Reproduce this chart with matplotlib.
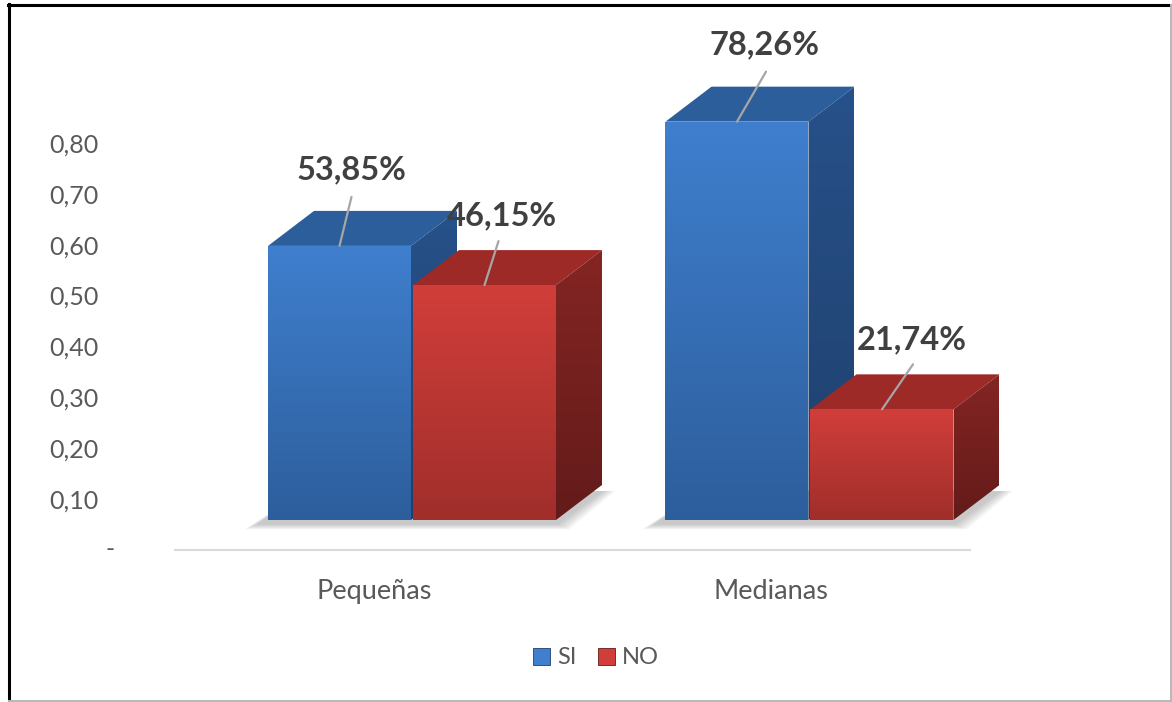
import numpy as np
import matplotlib
matplotlib.use("Agg")
import matplotlib.pyplot as plt
from matplotlib.patches import Polygon, Patch
from matplotlib.colors import LinearSegmentedColormap
from matplotlib.lines import Line2D
import matplotlib.transforms as mtransforms

# ---------------- data ----------------
categories = ["Pequeñas", "Medianas"]
series_names = ["SI", "NO"]
si_values = [0.5385, 0.7826]
no_values = [0.4615, 0.2174]
y_ticks = [0.0, 0.1, 0.2, 0.3, 0.4, 0.5, 0.6, 0.7, 0.8]
y_tick_labels = ["", "0,10", "0,20", "0,30", "0,40", "0,50", "0,60", "0,70", "0,80"]
zero_label = "-"

# ---------------- style / layout ----------------
plt.rcParams["font.family"] = ["Lato", "DejaVu Sans"]
FIG_W, FIG_H = 1172, 702
PX_X = 1 / 397.5          # category units per pixel
PX_Y = 1 / 509.0          # value units per pixel
W = 143 * PX_X            # bar width
DX = 46 * PX_X            # depth offset x
DY = 35 * PX_Y            # depth offset y
BASE = 30 * PX_Y          # front face floor
SI_OFF = -105.75 * PX_X
NO_OFF = 39.25 * PX_X
EXTRA_R = 80              # extra axes room on the right (pixels) for 3D depth

colors = {
    "SI": dict(front_top="#3f7fce", front_bot="#2d5e9c", top="#2c5e9c",
               side_top="#27518a", side_bot="#1f406c"),
    "NO": dict(front_top="#d13e3a", front_bot="#a02e2b", top="#9e2a27",
               side_top="#842523", side_bot="#631b1a"),
}
# label offsets (pixels): text centre and leader start, relative to front top centre
label_offsets_px = {("SI", 0): (12, 76), ("NO", 0): (17, 69),
                    ("SI", 1): (28, 77), ("NO", 1): (30, 70)}
line_offsets_px = {("SI", 0): (12, 49), ("NO", 0): (14, 44),
                   ("SI", 1): (29, 50), ("NO", 1): (31, 45)}

fig = plt.figure(figsize=(FIG_W / 100, FIG_H / 100), dpi=100)
ax = fig.add_axes([175 / FIG_W, (FIG_H - 550) / FIG_H, (795 + EXTRA_R) / FIG_W, 530 / FIG_H])
YMAX = 530 * PX_Y
XMIN, XMAX = -0.5, 1.5


def grad_fill(verts, c_top, c_bot, z):
    poly = Polygon(verts, closed=True, facecolor="none", edgecolor="none", clip_on=False)
    ax.add_patch(poly)
    xs, ys = zip(*verts)
    cmap = LinearSegmentedColormap.from_list("g", [c_bot, c_top])
    grad = np.linspace(0, 1, 256).reshape(-1, 1)
    im = ax.imshow(grad, extent=[min(xs), max(xs), min(ys), max(ys)], origin="lower",
                   cmap=cmap, aspect="auto", zorder=z, interpolation="bicubic")
    im.set_clip_path(poly)


def shadow(x0, x1, z):
    for k in range(6):
        e = (6 - k) * 2.2
        verts = [(x0 - (10 + e) * PX_X, BASE - (4 + e * 0.4) * PX_Y),
                 (x1 + e * PX_X, BASE - (4 + e * 0.4) * PX_Y),
                 (x1 + DX + e * PX_X, BASE + DY - 6 * PX_Y),
                 (x0 + DX - 10 * PX_X, BASE + DY - 6 * PX_Y)]
        ax.add_patch(Polygon(verts, closed=True, facecolor="#404040", edgecolor="none",
                             alpha=0.05, zorder=z, clip_on=False))


z = 2
xpos = np.arange(len(categories))
for i in xpos:
    shadow(i + SI_OFF, i + NO_OFF + W, 1)

for i, cat in enumerate(categories):
    for name, vals, off in (("SI", si_values, SI_OFF), ("NO", no_values, NO_OFF)):
        v = vals[i]
        c = colors[name]
        bars = ax.bar([xpos[i] + off], [v], width=W, bottom=BASE, align="edge",
                      color=c["front_top"], edgecolor="none", zorder=z + 0.1, clip_on=False)
        rect = bars[0]
        x0 = rect.get_x()
        x1 = x0 + rect.get_width()
        yb = rect.get_y()
        yt = yb + rect.get_height()
        top = [(x0, yt), (x1, yt), (x1 + DX, yt + DY), (x0 + DX, yt + DY)]
        side = [(x1, yb), (x1 + DX, yb + DY), (x1 + DX, yt + DY), (x1, yt)]
        ax.add_patch(Polygon(top, closed=True, facecolor=c["top"], edgecolor="none",
                             zorder=z, clip_on=False))
        grad_fill(side, c["side_top"], c["side_bot"], z)
        grad_fill([(x0, yb), (x1, yb), (x1, yt), (x0, yt)], c["front_top"], c["front_bot"], z + 0.2)
        cx = (x0 + x1) / 2
        lx, ly = line_offsets_px[(name, i)]
        ax.annotate("", xy=(cx, yt), xytext=(lx * 0.72, ly * 0.72), textcoords="offset points",
                    arrowprops=dict(arrowstyle="-", color="#a6a6a6", lw=1.6,
                                    shrinkA=0, shrinkB=0), zorder=z + 0.5)
        tx, ty = label_offsets_px[(name, i)]
        ax.annotate(f"{v * 100:.2f}%".replace(".", ","), xy=(cx, yt),
                    xytext=(tx * 0.72, ty * 0.72), textcoords="offset points",
                    ha="center", va="center", fontsize=23.5, fontweight="bold",
                    color="#404040", zorder=20, annotation_clip=False)
        z += 1

ax.set_xlim(XMIN, XMAX + EXTRA_R * PX_X)
ax.set_ylim(0, YMAX)
for s in ("top", "right", "left", "bottom"):
    ax.spines[s].set_visible(False)
ax.plot([XMIN, XMAX], [0, 0], color="#d9d9d9", lw=1.5, zorder=0.5, clip_on=False)
ax.set_facecolor("none")

ax.set_yticks(y_ticks)
ax.set_yticklabels(y_tick_labels)
ax.tick_params(axis="y", length=0, pad=55, labelsize=18, labelcolor="#595959")
ax.set_xticks(xpos)
ax.set_xticklabels(categories)
ax.tick_params(axis="x", length=0, pad=21, labelsize=19.5, labelcolor="#595959")
trans = mtransforms.blended_transform_factory(ax.transData, ax.transData)
ax.text(XMIN - 65 * PX_X, 0, zero_label, transform=trans, ha="center", va="center",
        fontsize=18, color="#595959", clip_on=False)

handles = [Patch(facecolor=colors["SI"]["front_top"], edgecolor=colors["SI"]["side_bot"], lw=0.6),
           Patch(facecolor=colors["NO"]["front_top"], edgecolor=colors["NO"]["side_bot"], lw=0.6)]
fig.legend(handles, series_names, loc="center", bbox_to_anchor=(596 / FIG_W, 1 - 658 / FIG_H),
           ncol=2, frameon=False, fontsize=17, labelcolor="#595959", handlelength=0.72,
           handleheight=0.72, handletextpad=0.3, columnspacing=0.9)

# frame
fig.add_artist(Line2D([8 / FIG_W, 1], [1 - 5.3 / FIG_H, 1 - 5.3 / FIG_H], color="black", lw=2.2,
                      transform=fig.transFigure))
fig.add_artist(Line2D([9.5 / FIG_W, 9.5 / FIG_W], [0, 1 - 4 / FIG_H], color="black", lw=2.2,
                      transform=fig.transFigure))
fig.add_artist(Line2D([1171 / FIG_W, 1171 / FIG_W], [0, 1 - 5 / FIG_H], color="#b8b8b8", lw=1.4,
                      transform=fig.transFigure))
fig.add_artist(Line2D([9 / FIG_W, 1], [1 - 701 / FIG_H, 1 - 701 / FIG_H], color="#b8b8b8", lw=1.4,
                      transform=fig.transFigure))

fig.savefig("out.png", dpi=100)
